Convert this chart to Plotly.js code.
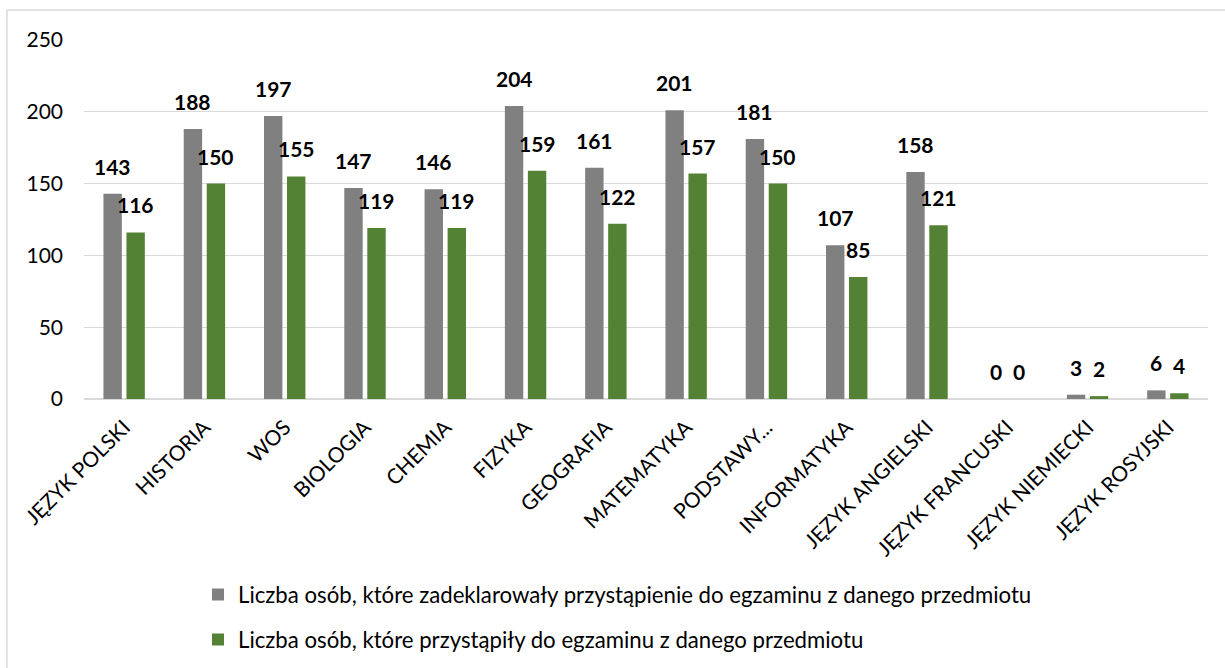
<!DOCTYPE html>
<html>
<head>
<meta charset="utf-8">
<script src="https://cdn.plot.ly/plotly-3.0.1.min.js"></script>
<style>
html,body{margin:0;padding:0;background:#fff;overflow:hidden;width:1225px;height:668px;}
#chart{width:1225px;height:668px;overflow:hidden;}
</style>
</head>
<body>
<div id="chart"></div>
<script>
var categories = ["JĘZYK POLSKI","HISTORIA","WOS","BIOLOGIA","CHEMIA","FIZYKA","GEOGRAFIA","MATEMATYKA","PODSTAWY...","INFORMATYKA","JĘZYK ANGIELSKI","JĘZYK FRANCUSKI","JĘZYK NIEMIECKI","JĘZYK ROSYJSKI"];
var declared = [143,188,197,147,146,204,161,201,181,107,158,0,3,6];
var took = [116,150,155,119,119,159,122,157,150,85,121,0,2,4];
var seriesNames = ["Liczba osób, które zadeklarowały przystąpienie do egzaminu z danego przedmiotu","Liczba osób, które przystąpiły do egzaminu z danego przedmiotu"];
var yTicks = [0,50,100,150,200,250];

var FONT = "Lato, 'Open Sans', sans-serif";
var colors = ["#808080","#548235"];

var traces = [
  {type:"bar", x:categories, y:declared, name:seriesNames[0], marker:{color:colors[0]}, legend:"legend", hoverinfo:"x+y"},
  {type:"bar", x:categories, y:took, name:seriesNames[1], marker:{color:colors[1]}, legend:"legend2", hoverinfo:"x+y"}
];

var annotations = [];
[declared, took].forEach(function(arr, s){
  arr.forEach(function(v, i){
    annotations.push({
      x: categories[i], y: v, xref:"x", yref:"y",
      text: String(v), showarrow:false,
      xanchor:"center", yanchor:"bottom",
      xshift: s === 0 ? -11.5 : 11.5, yshift: 13,
      font:{family:FONT, size:21, color:"#000", weight:"bold"}
    });
  });
});

// paper-coordinate helpers for the outer frame (pixel -> paper fraction)
function px(v){ return (v - 84) / 1124; }
function py(v){ return (399 - v) / 359; }

var layout = {
  width:1225, height:668,
  margin:{l:84, r:17, t:40, b:269, autoexpand:false},
  paper_bgcolor:"#fff", plot_bgcolor:"#fff",
  font:{family:FONT, color:"#000"},
  barmode:"group", bargap:0.427, bargroupgap:0.2,
  xaxis:{
    type:"category", tickangle:-45, showgrid:false, zeroline:false, showline:false,
    ticks:"", ticklabelstandoff:11, tickfont:{family:FONT, size:21, color:"#000"}, automargin:false
  },
  yaxis:{
    range:[0,250], tickvals:yTicks, ticktext:yTicks.map(String),
    showgrid:true, gridcolor:"#d9d9d9", gridwidth:1.3,
    zeroline:true, zerolinecolor:"#d9d9d9", zerolinewidth:1.3,
    showline:false, ticks:"", ticklabelstandoff:20,
    tickfont:{family:FONT, size:21, color:"#000"}, automargin:false
  },
  showlegend:true,
  legend:{x:px(198), y:py(573.5), xanchor:"left", yanchor:"top", orientation:"h",
          font:{family:FONT, size:22.2, color:"#000"}, bgcolor:"rgba(0,0,0,0)"},
  legend2:{x:px(198), y:py(618.5), xanchor:"left", yanchor:"top", orientation:"h",
          font:{family:FONT, size:22.2, color:"#000"}, bgcolor:"rgba(0,0,0,0)"},
  annotations: annotations,
  shapes:[
    {type:"line", xref:"paper", yref:"paper", x0:px(7), x1:px(7), y0:py(700), y1:py(10),
     line:{color:"#d9d9d9", width:1.5}, layer:"below"},
    {type:"line", xref:"paper", yref:"paper", x0:px(7), x1:px(1240), y0:py(10), y1:py(10),
     line:{color:"#d9d9d9", width:1.5}, layer:"below"}
  ]
};

Plotly.newPlot("chart", traces, layout, {displayModeBar:false, staticPlot:true});
</script>
</body>
</html>
